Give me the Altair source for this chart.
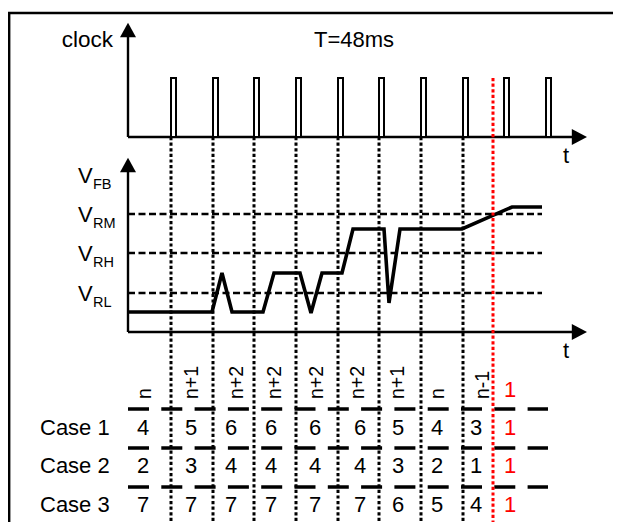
import altair as alt
import pandas as pd

FONT = "Liberation Sans"
BLACK = "#000000"
RED = "#ff0000"

# ---- layout frame (page pixels) ----
X0, X1 = 8, 613
Y0, Y1 = 8, 522

# ---- figure frame (left edge and top edge, one polyline) ----
frame_x = [9.2, 9.2, 621]
frame_y = [530, 13, 13]

# ---- clock pulses ----
pulse_x = [170, 212, 253, 295, 337, 378, 420, 462, 503, 545]
pulse_w = [6] * 10
clock_base = 137
clock_top = 78

# ---- sampling instants (dotted verticals) and the red instant ----
marker_x = [170, 212, 253, 295, 337, 378, 420, 462]
red_x = 493

# ---- VFB trace ----
sig_x = [128, 212, 222, 232, 263, 274, 300, 311, 322, 342, 353, 384, 389, 400, 462, 512, 542]
sig_y = [312, 312, 273, 312, 312, 273, 273, 313, 273, 273, 229, 229, 303, 229, 229, 207, 207]

# ---- reference levels ----
ref_sub = ["RM", "RH", "RL"]
ref_y = [214, 253, 293]

# ---- table ----
col_labels = ["n", "n+1", "n+2", "n+2", "n+2", "n+2", "n+1", "n", "n-1"]
col_label_x = [145, 192, 237, 275, 317, 358, 398, 438, 483]
case_names = ["Case 1", "Case 2", "Case 3"]
case1 = [4, 5, 6, 6, 6, 6, 5, 4, 3, 1]
case2 = [2, 3, 4, 4, 4, 4, 3, 2, 1, 1]
case3 = [7, 7, 7, 7, 7, 7, 6, 5, 4, 1]
val_x = [143, 191, 231, 271, 315, 360, 398, 437, 476, 510]
case_y = [435, 473, 512]
sep_y = [409, 448, 487]


def X(field="x"):
    return alt.X(f"{field}:Q", scale=alt.Scale(domain=[X0, X1], nice=False, zero=False), axis=None)


def Y(field="y"):
    return alt.Y(f"{field}:Q", scale=alt.Scale(domain=[Y0, Y1], nice=False, zero=False, reverse=True), axis=None)


def hsegs(rows, **mark):
    """horizontal rules: rows of [x, x2, y]"""
    df = pd.DataFrame(rows, columns=["x", "x2", "y"])
    return alt.Chart(df).mark_rule(**mark).encode(x=X(), x2="x2:Q", y=Y())


def vsegs(rows, **mark):
    """vertical rules: rows of [x, y, y2]"""
    df = pd.DataFrame(rows, columns=["x", "y", "y2"])
    return alt.Chart(df).mark_rule(**mark).encode(x=X(), y=Y(), y2="y2:Q")


def polyline(xs, ys, **mark):
    df = pd.DataFrame({"x": xs, "y": ys, "o": list(range(len(xs)))})
    return alt.Chart(df).mark_line(**mark).encode(x=X(), y=Y(), order="o:Q")


def texts(rows, **mark):
    df = pd.DataFrame(rows, columns=["x", "y", "t", "c"])
    base = dict(font=FONT, baseline="alphabetic")
    base.update(mark)
    return alt.Chart(df).mark_text(**base).encode(
        x=X(), y=Y(), text="t:N", color=alt.Color("c:N", scale=None)
    )


layers = []

# frame
layers.append(polyline(frame_x, frame_y, color=BLACK, strokeWidth=2.4, strokeJoin="miter"))

# axes
layers.append(vsegs([[128, 30, clock_base], [128, 165, 332]], color=BLACK, strokeWidth=2.4))
layers.append(hsegs([[128, 579, clock_base], [128, 579, 332]], color=BLACK, strokeWidth=2.4))

# arrowheads
up = pd.DataFrame({"x": [128, 128], "y": [30, 165]})
right = pd.DataFrame({"x": [579, 579], "y": [clock_base, 332]})
layers.append(alt.Chart(up).mark_point(shape="M0,-0.9L1,0.9L-1,0.9Z", size=256, filled=True,
                                       color=BLACK, opacity=1).encode(x=X(), y=Y()))
layers.append(alt.Chart(right).mark_point(shape="M1,0L-0.9,1L-0.9,-1Z", size=256, filled=True,
                                          color=BLACK, opacity=1).encode(x=X(), y=Y()))

# reference dashed levels
layers.append(hsegs([[128, 542, y] for y in ref_y], color=BLACK, strokeWidth=2.4,
                    strokeDash=[7, 3.5]))

# table separators
layers.append(hsegs([[128, 548, y] for y in sep_y], color=BLACK, strokeWidth=3.5,
                    strokeDash=[21, 12.3]))

# dotted verticals
layers.append(vsegs([[x + 1, clock_base, 522] for x in marker_x], color=BLACK,
                    strokeWidth=3, strokeDash=[3.2, 2.4]))

# pulses
pdf = pd.DataFrame({"x": [p + 1 for p in pulse_x],
                    "x2": [p + 1 + w - 1 for p, w in zip(pulse_x, pulse_w)],
                    "y": [clock_top] * len(pulse_x), "y2": [clock_base] * len(pulse_x)})
layers.append(alt.Chart(pdf).mark_rect(fill="white", stroke=BLACK, strokeWidth=2).encode(
    x=X(), x2="x2:Q", y=Y(), y2="y2:Q"))

# signal trace
layers.append(polyline(sig_x, sig_y, color=BLACK, strokeWidth=3.6, strokeJoin="miter",
                       strokeMiterLimit=3))

# red instant
layers.append(vsegs([[red_x, clock_top, 526]], color=RED, strokeWidth=3,
                    strokeDash=[3.2, 2.4]))

# texts
layers.append(texts([[113, 47, "clock", BLACK]], align="right", fontSize=22.5))
left_rows = [
    [314, 47, "T=48ms", BLACK],
    [563, 163, "t", BLACK],
    [563, 358, "t", BLACK],
    [78, 183, "V", BLACK],
]
for s, y in zip(ref_sub, ref_y):
    left_rows.append([78, y + 8, "V", BLACK])
for name, y in zip(case_names, case_y):
    left_rows.append([40, y, name, BLACK])
layers.append(texts(left_rows, align="left", fontSize=22))

sub_rows = [[93, 189, "FB", BLACK]]
for s, y in zip(ref_sub, ref_y):
    sub_rows.append([93, y + 14, s, BLACK])
layers.append(texts(sub_rows, align="left", fontSize=14.5))

val_rows = []
for vals, y in zip([case1, case2, case3], case_y):
    for i, (v, x) in enumerate(zip(vals, val_x)):
        val_rows.append([x, y, str(v), RED if i == len(vals) - 1 else BLACK])
val_rows.append([510, 397, "1", RED])
layers.append(texts(val_rows, align="center", fontSize=22))

rot_rows = [[x, 399, lab, BLACK] for lab, x in zip(col_labels, col_label_x)]
layers.append(texts(rot_rows, align="left", baseline="middle", angle=270, fontSize=19.5))

chart = alt.layer(*layers).properties(
    width=X1 - X0, height=Y1 - Y0, padding=0,
    autosize=alt.AutoSizeParams(type="none"),
).configure_view(strokeWidth=0, stroke="transparent")

chart.save("out.html", embed_options={"renderer": "svg", "actions": False})
